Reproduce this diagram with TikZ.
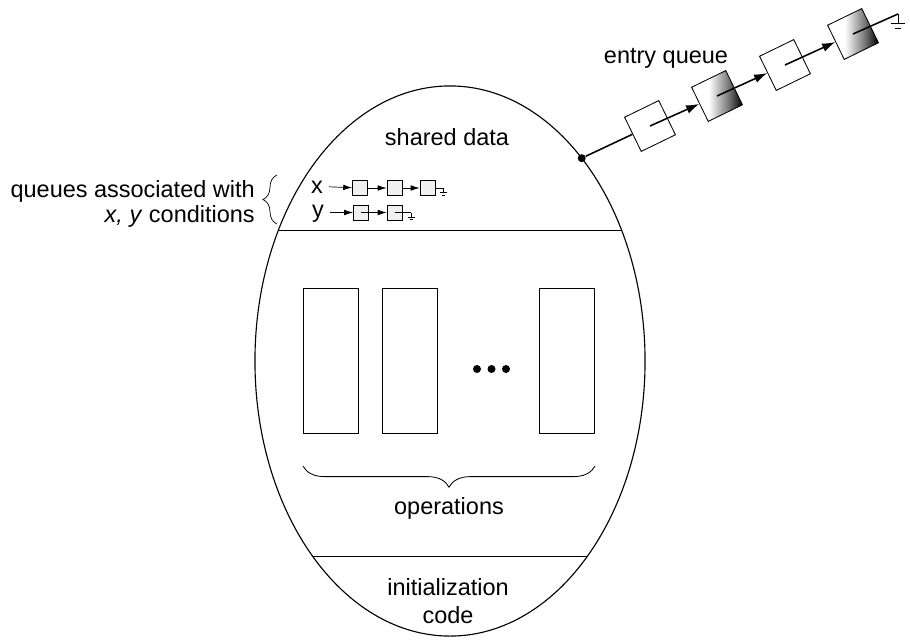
\documentclass[tikz,border=0pt]{standalone}
\usepackage{fontspec}
\setmainfont{Liberation Sans}
\usetikzlibrary{arrows.meta, positioning, shapes.geometric, decorations.pathreplacing, calc}

\pgfdeclarehorizontalshading{qfade}{100bp}{color(0bp)=(white); color(25bp)=(white);
  color(42bp)=(white); color(62bp)=(black!55); color(75bp)=(black); color(100bp)=(black)}

\tikzset{
  lbl/.style={font=\fontsize{16.7}{20}\selectfont, inner sep=0pt},
  opbox/.style={draw, line width=0.7pt, minimum width=1.375cm, minimum height=3.6cm, inner sep=0pt},
  cell/.style={draw, fill=gray!12, minimum size=0.38cm, inner sep=0pt, line width=0.5pt},
  qcell/.style={draw, fill=white, minimum size=0.95cm, inner sep=0pt, rotate=26, line width=0.6pt},
  qshade/.style={qcell, shading=qfade},
  qarrow/.style={-{Latex[length=3.3mm, width=2.2mm]}, line width=1.1pt},
  carrow/.style={-{Latex[length=2.2mm, width=1.4mm]}, line width=0.5pt},
  gnd/.pic={
    \draw[line width=0.6pt] (0,0) -- (0,9) (-7,9) -- (7,9) (-3,14) -- (3,14);
  },
}

\begin{document}
\begin{tikzpicture}[x=0.025cm, y=-0.025cm]
\useasboundingbox (0,0) rectangle (910,640);

% --- Monitor outline ---
\node[draw, ellipse, line width=0.8pt, minimum width=9.75cm, minimum height=13.75cm,
  inner sep=0pt, outer sep=0pt] (monitor) at (450,361) {};
\begin{scope}
  \clip (450,361) ellipse [x radius=195, y radius=275];
  \draw[line width=0.7pt] (200,230) -- (700,230);
  \draw[line width=0.7pt] (200,556) -- (700,556);
\end{scope}

% --- Shared data ---
\node[lbl, anchor=base] (shared) at (447,145) {shared data};

% --- Condition queues ---
\node[lbl, anchor=base, inner sep=4pt] (xlbl) at (317,193) {x};
\node[cell] (x1) at (360,188) {};
\node[cell] (x2) at (394.5,188) {};
\node[cell] (x3) at (427.5,188) {};
\coordinate (xend) at (443,188);
\draw[carrow] (xlbl.east) -- (x1);
\draw[carrow] (x1.east) -- (x2);
\draw[carrow] (x2.east) -- (x3);
\draw[line width=0.5pt] (x3.east) -- (xend);
\pic[scale=0.5] at (xend) {gnd};

\node[lbl, anchor=base, inner sep=4pt] (ylbl) at (318,217) {y};
\node[cell] (y1) at (361,212.5) {};
\node[cell] (y2) at (394.5,212.5) {};
\coordinate (yend) at (411,212.5);
\draw[carrow] (ylbl.east |- y1) -- (y1);
\draw[carrow] (y1.center) -- (y2);
\draw[line width=0.5pt] (y2.center) -- (yend);
\pic[scale=0.5] at (yend) {gnd};

\node[lbl, anchor=base east] (qlbl1) at (255,197) {queues associated with};
\node[lbl, anchor=base east] (qlbl2) at (255,222) {\textit{x, y} conditions};
\draw[line width=0.5pt, decorate, decoration={brace, amplitude=3.5mm}]
  (277,224) -- (277,175);

% --- Operations ---
\node[opbox] (op1) at (330.5,361) {};
\node[opbox] (op2) at (409.5,361) {};
\node[opbox] (op3) at (567,361) {};
\foreach \i/\x in {1/477,2/491.5,3/506}
  \node[circle, fill, inner sep=0pt, minimum size=2mm] (dot\i) at (\x,369) {};
\draw[line width=0.6pt, decorate, decoration={brace, amplitude=5.3mm}]
  (595,466) -- (303,466);
\node[lbl, anchor=base] (ops) at (449,514) {operations};

% --- Initialization code ---
\node[lbl, anchor=base] (init1) at (448,595) {initialization};
\node[lbl, anchor=base] (init2) at (448,623) {code};

% --- Entry queue ---
\node[circle, fill, inner sep=0pt, minimum size=2mm] (entry) at (monitor.57) {};
\node[qcell] (q1) at (650,126) {};
\node[qshade] (q2) at (717,96) {};
\node[qcell] (q3) at (785,65) {};
\node[qshade] (q4) at (853,34) {};
\coordinate (qend) at (898,14);
\draw[line width=1.1pt] (entry) -- (q1);
\draw[qarrow] (q1.center) -- (q2);
\draw[qarrow] (q2.center) -- (q3);
\draw[qarrow] (q3.center) -- (q4);
\draw[line width=1.1pt] (q4.center) -- (qend);
\pic at (qend) {gnd};
\node[lbl, anchor=base] (entrylbl) at (666,63) {entry queue};

\end{tikzpicture}
\end{document}
